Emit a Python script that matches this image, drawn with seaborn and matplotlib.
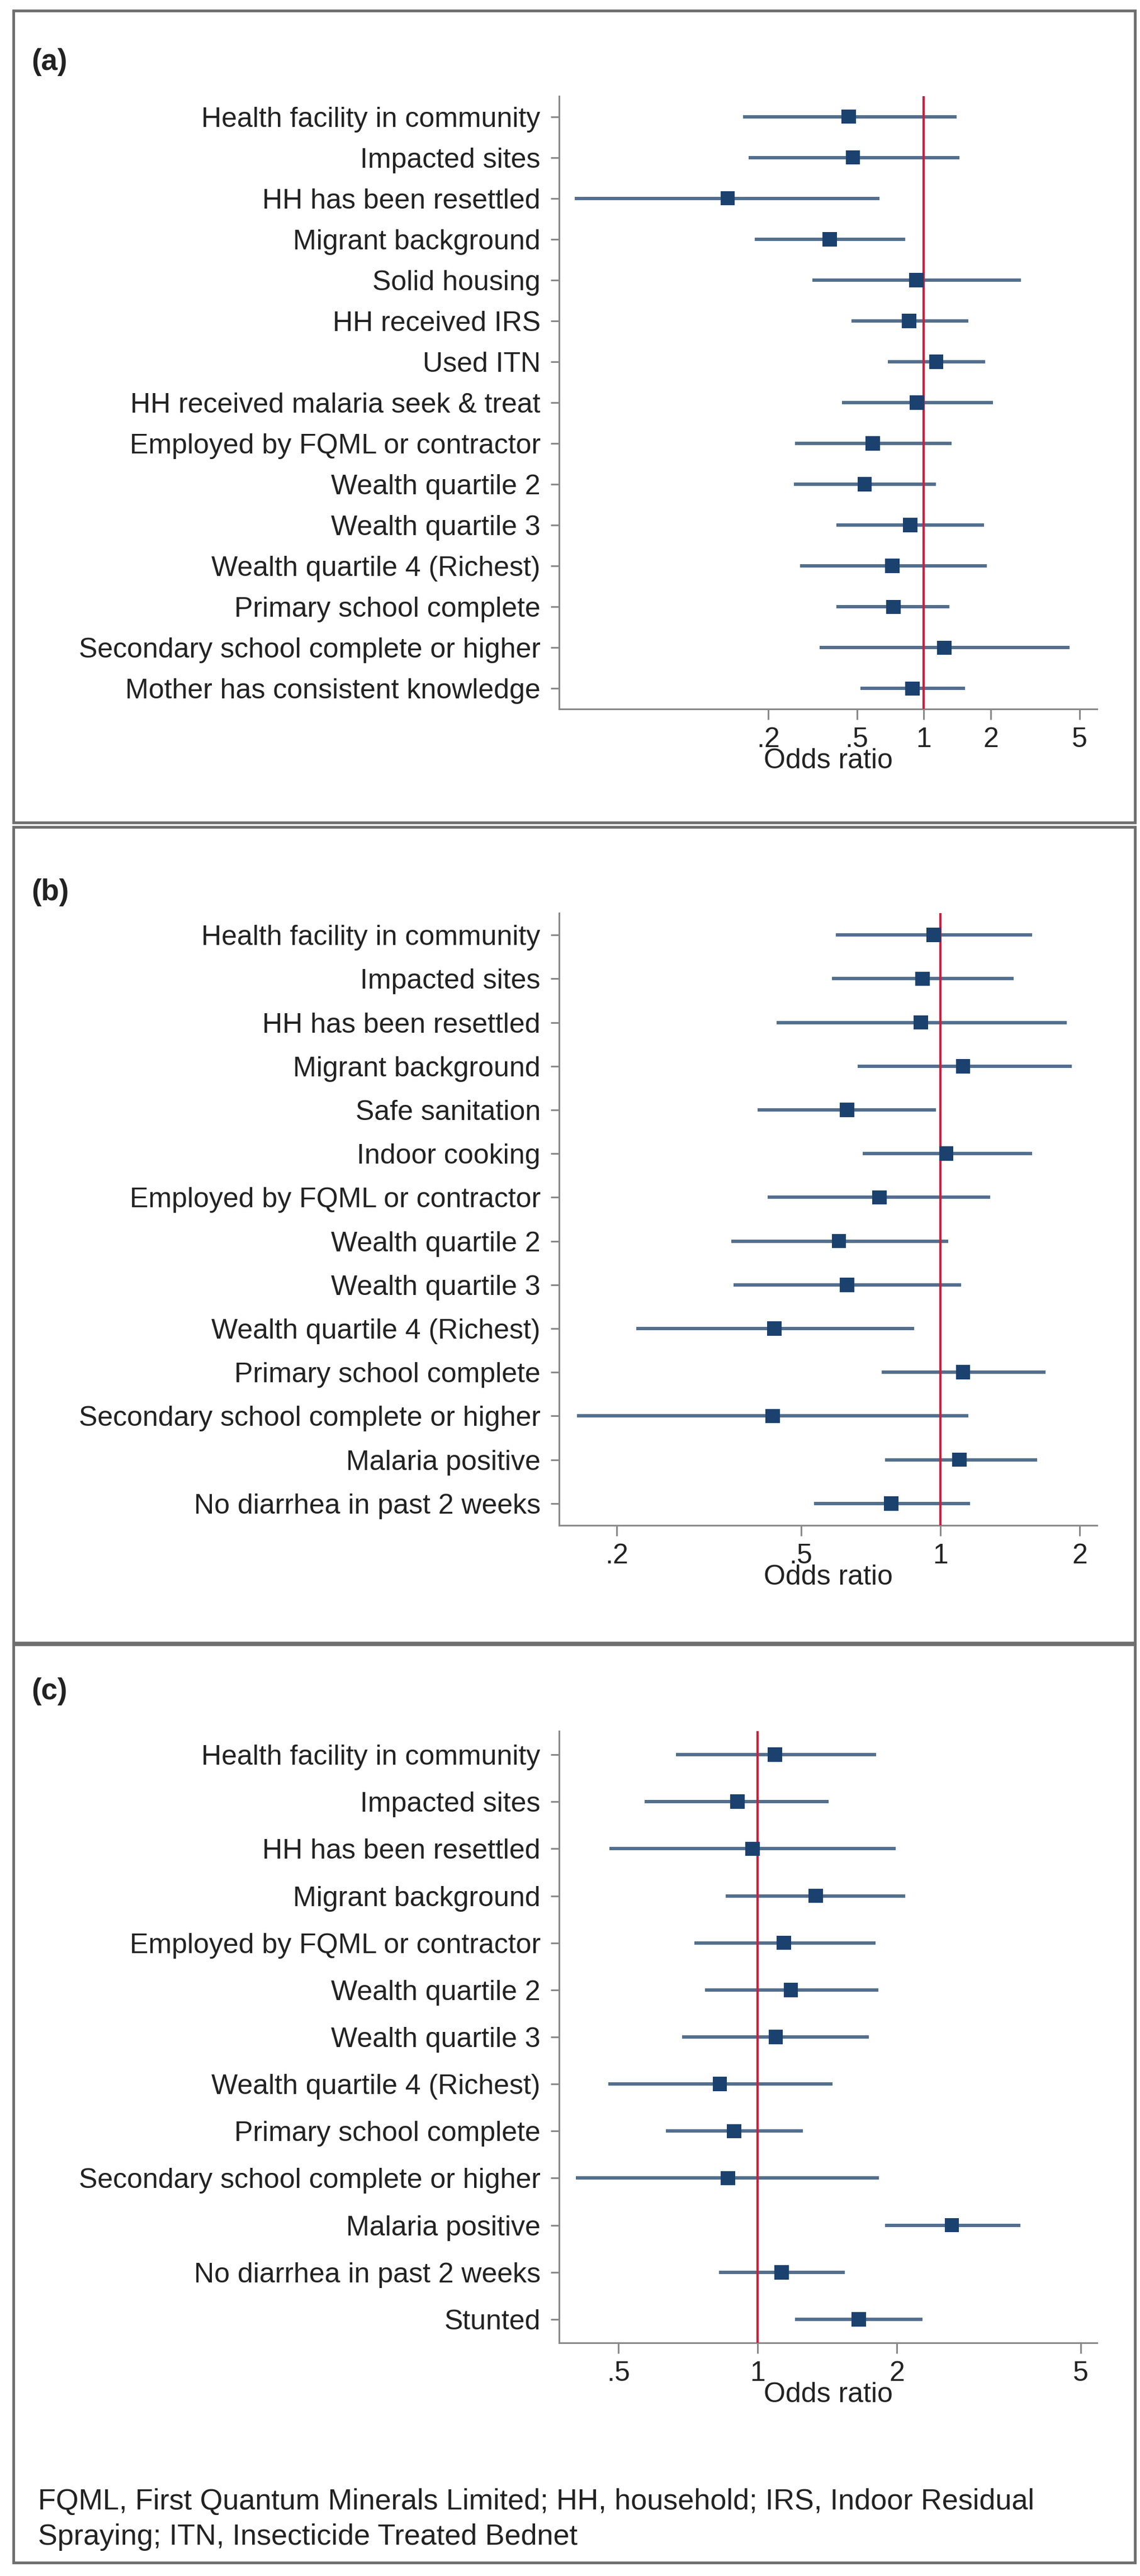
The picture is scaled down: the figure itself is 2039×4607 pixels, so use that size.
import numpy as np
import pandas as pd
import matplotlib
matplotlib.use('Agg')
import matplotlib.pyplot as plt
import seaborn as sns
from matplotlib.patches import Rectangle
from matplotlib.ticker import NullLocator

# ---- data (odds ratios with 95% CI) ----
labels_a = ['Health facility in community', 'Impacted sites', 'HH has been resettled',
            'Migrant background', 'Solid housing', 'HH received IRS', 'Used ITN',
            'HH received malaria seek & treat', 'Employed by FQML or contractor',
            'Wealth quartile 2', 'Wealth quartile 3', 'Wealth quartile 4 (Richest)',
            'Primary school complete', 'Secondary school complete or higher',
            'Mother has consistent knowledge']
or_a = [0.46, 0.48, 0.131, 0.377, 0.925, 0.857, 1.135, 0.93, 0.589, 0.541, 0.869, 0.72, 0.73, 1.235, 0.887]
lo_a = [0.154, 0.163, 0.027, 0.174, 0.316, 0.474, 0.687, 0.429, 0.264, 0.261, 0.405, 0.278, 0.405, 0.339, 0.519]
hi_a = [1.405, 1.445, 0.632, 0.822, 2.73, 1.585, 1.88, 2.045, 1.33, 1.13, 1.86, 1.92, 1.305, 4.51, 1.535]

labels_b = ['Health facility in community', 'Impacted sites', 'HH has been resettled',
            'Migrant background', 'Safe sanitation', 'Indoor cooking',
            'Employed by FQML or contractor', 'Wealth quartile 2', 'Wealth quartile 3',
            'Wealth quartile 4 (Richest)', 'Primary school complete',
            'Secondary school complete or higher', 'Malaria positive',
            'No diarrhea in past 2 weeks']
or_b = [0.968, 0.915, 0.908, 1.12, 0.629, 1.03, 0.739, 0.604, 0.629, 0.438, 1.12, 0.434, 1.10, 0.783]
lo_b = [0.595, 0.583, 0.443, 0.662, 0.403, 0.679, 0.424, 0.353, 0.357, 0.22, 0.747, 0.164, 0.76, 0.534]
hi_b = [1.58, 1.44, 1.875, 1.925, 0.978, 1.58, 1.28, 1.04, 1.11, 0.877, 1.69, 1.15, 1.62, 1.16]

labels_c = ['Health facility in community', 'Impacted sites', 'HH has been resettled',
            'Migrant background', 'Employed by FQML or contractor', 'Wealth quartile 2',
            'Wealth quartile 3', 'Wealth quartile 4 (Richest)', 'Primary school complete',
            'Secondary school complete or higher', 'Malaria positive',
            'No diarrhea in past 2 weeks', 'Stunted']
or_c = [1.09, 0.904, 0.975, 1.335, 1.14, 1.18, 1.094, 0.828, 0.89, 0.862, 2.63, 1.127, 1.655]
lo_c = [0.665, 0.57, 0.478, 0.854, 0.729, 0.77, 0.687, 0.475, 0.634, 0.404, 1.885, 0.825, 1.205]
hi_c = [1.805, 1.425, 1.99, 2.085, 1.80, 1.825, 1.74, 1.45, 1.253, 1.83, 3.70, 1.545, 2.275]

ticks_a = [0.2, 0.5, 1, 2, 5]
ticks_b = [0.2, 0.5, 1, 2]
ticks_c = [0.5, 1, 2, 5]

footnote = ['FQML, First Quantum Minerals Limited; HH, household; IRS, Indoor Residual',
            'Spraying; ITN, Insecticide Treated Bednet']

sns.set_theme(style='ticks')
plt.rcParams['font.family'] = ['Liberation Sans', 'DejaVu Sans']

W, H = 2040, 4607
CI_COL = '#536f8e'
PT_COL = '#1b416f'
RED = '#cc1f3d'
AX_COL = '#8a8a8a'
TXT = '#222222'
FS = 36

fig = plt.figure(figsize=(W / 100, H / 100), dpi=100)


def stata_tick(v):
    s = f'{v:g}'
    return s[1:] if s.startswith('0.') else s


def forest(top, bottom, labels, est, lo, hi, xlim, ticks):
    ax = fig.add_axes([1000 / W, 1 - bottom / H, 962 / W, (bottom - top) / H])
    df = pd.DataFrame({'label': labels, 'pos': np.arange(len(labels)),
                       'est': est, 'lo': lo, 'hi': hi})
    ax.set_xscale('log')
    ax.hlines(df['pos'], df['lo'], df['hi'], color=CI_COL, lw=4.3, zorder=2)
    ax.axvline(1, color=RED, lw=3.0, zorder=3)
    sns.scatterplot(data=df, x='est', y='pos', marker='s', s=340, color=PT_COL,
                    edgecolor='none', linewidth=0, legend=False, zorder=4, ax=ax)
    ax.set_xlim(*xlim)
    ax.set_ylim(len(labels) - 0.5, -0.5)
    ax.set_yticks(df['pos'], df['label'])
    ax.set_xticks(ticks, [stata_tick(t) for t in ticks])
    ax.xaxis.set_minor_locator(NullLocator())
    ax.set_xlabel('Odds ratio', fontsize=FS, color=TXT, labelpad=-6)
    ax.set_ylabel('')
    sns.despine(ax=ax)
    for s in ['left', 'bottom']:
        ax.spines[s].set_color(AX_COL)
        ax.spines[s].set_linewidth(2.2)
    ax.tick_params(axis='y', length=11, width=2.2, pad=13, color=AX_COL,
                   labelsize=FS, labelcolor=TXT)
    ax.tick_params(axis='x', length=14, width=2.2, pad=9, color=AX_COL,
                   labelsize=FS, labelcolor=TXT)
    ax.set_facecolor('white')
    return ax


forest(172, 1268, labels_a, or_a, lo_a, hi_a, (0.0229, 6.0), ticks_a)
forest(1633, 2728, labels_b, or_b, lo_b, hi_b, (0.150, 2.18), ticks_b)
forest(3096, 4190, labels_c, or_c, lo_c, hi_c, (0.372, 5.42), ticks_c)

# panel frames and letters
for (t, b), letter, ly in zip([(19, 1471), (1479, 2938), (2941, 4583)],
                              ['(a)', '(b)', '(c)'], [111, 1596, 3025]):
    fig.add_artist(Rectangle((24 / W, 1 - b / H), (2030 - 24) / W, (b - t) / H,
                             transform=fig.transFigure, fill=False,
                             edgecolor='#6e6e6e', lw=3.5))
    fig.text(56 / W, 1 - ly / H, letter, fontsize=38, fontweight='bold',
             color=TXT, ha='left', va='center')

for line, ly in zip(footnote, [4475, 4538]):
    fig.text(68 / W, 1 - ly / H, line, fontsize=37.5, color=TXT, ha='left', va='center')

fig.savefig('out.png', dpi=100, facecolor='white')
